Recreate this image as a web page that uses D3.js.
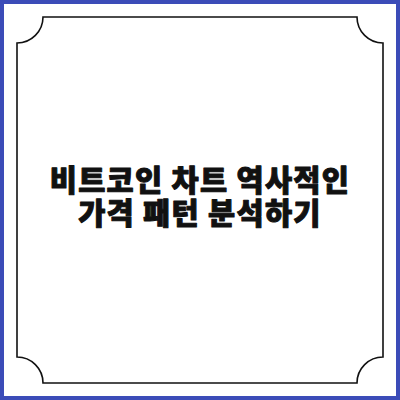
<!DOCTYPE html>
<html>
<head>
<meta charset="utf-8">
<script src="https://cdn.jsdelivr.net/npm/d3@7"></script>
<style>
  html, body { margin: 0; padding: 0; background: #fff; }
</style>
</head>
<body>
<svg id="card"></svg>
<script>
var titleLines = ["비트코인 차트 역사적인", "가격 패턴 분석하기"];
var lineIndex = [0, 1];

var width = 400, height = 400;

var svg = d3.select("#card")
    .attr("width", width)
    .attr("height", height);

// outer blue frame
svg.append("rect")
    .attr("x", 2)
    .attr("y", 2)
    .attr("width", width - 4)
    .attr("height", height - 4)
    .attr("fill", "#fff")
    .attr("stroke", "#3b4cb8")
    .attr("stroke-width", 4);

// inner frame with inverted (scooped) corners
var m = 17, r = 26, w = width - 2 * m;
var frame = d3.path();
frame.moveTo(m + r, m);
frame.lineTo(m + w - r, m);
frame.arc(m + w, m, r, Math.PI, Math.PI / 2, true);
frame.lineTo(m + w, m + w - r);
frame.arc(m + w, m + w, r, -Math.PI / 2, Math.PI, true);
frame.lineTo(m + r, m + w);
frame.arc(m, m + w, r, 0, -Math.PI / 2, true);
frame.lineTo(m, m + r);
frame.arc(m, m, r, Math.PI / 2, 0, true);
frame.closePath();

svg.append("path")
    .attr("d", frame.toString())
    .attr("fill", "none")
    .attr("stroke", "#111")
    .attr("stroke-width", 1.6);

var y = d3.scaleLinear()
    .domain([0, 1])
    .range([191, 224]);

svg.selectAll(".title-line")
    .data(lineIndex)
  .enter()
  .append("text")
    .classed("title-line", true)
    .attr("x", width / 2)
    .attr("y", d => y(d))
    .attr("text-anchor", "middle")
    .attr("font-family", "'Noto Sans CJK KR', sans-serif")
    .attr("font-weight", 900)
    .attr("font-size", 29.5)
    .attr("letter-spacing", 1.3)
    .attr("fill", "#111")
    .attr("stroke", "#111")
    .attr("stroke-width", 1.0)
    .attr("stroke-linejoin", "round")
    .text(d => titleLines[d]);
</script>
</body>
</html>
